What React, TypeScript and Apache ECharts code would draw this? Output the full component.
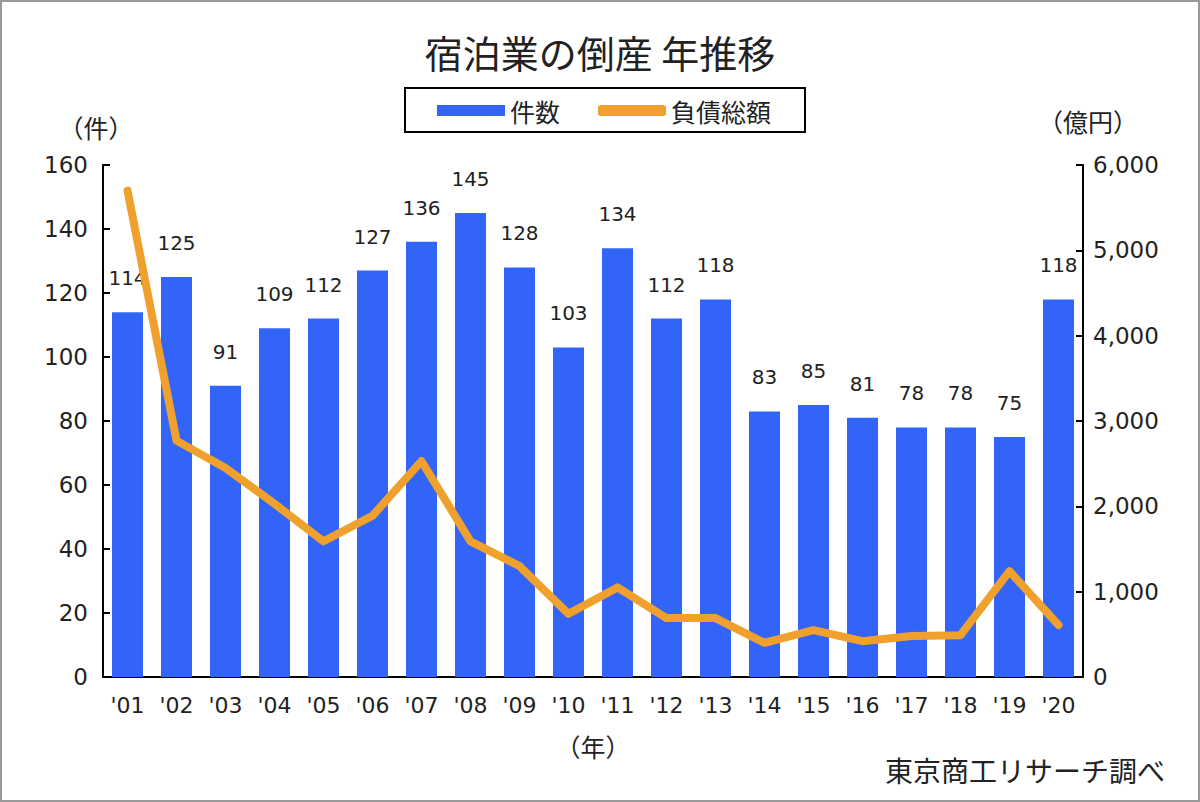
import React, { useEffect, useRef } from "react";
import * as echarts from "echarts";

const years = ["'01","'02","'03","'04","'05","'06","'07","'08","'09","'10","'11","'12","'13","'14","'15","'16","'17","'18","'19","'20"];
const counts = [114,125,91,109,112,127,136,145,128,103,134,112,118,83,85,81,78,78,75,118];
const debts = [5700,2770,2450,2030,1590,1890,2530,1590,1300,740,1050,690,690,400,550,420,480,490,1240,610];
const leftTicks = { min: 0, max: 160, interval: 20 };
const rightTicks = { min: 0, max: 6000, interval: 1000 };

const FONT = "'Noto Sans CJK JP', 'Noto Sans', sans-serif";
const NUM = "'DejaVu Sans', sans-serif";
const BLUE = "#3364F8";
const ORANGE = "#F0A02C";

export default function App() {
  const ref = useRef<HTMLDivElement>(null);
  useEffect(() => {
    if (!ref.current) return;
    const chart = echarts.init(ref.current, null, { renderer: "svg" });
    chart.setOption({
      animation: false,
      backgroundColor: "#fff",
      title: {
        text: "宿泊業の倒産 年推移",
        left: "center",
        top: 27,
        textStyle: { fontFamily: FONT, fontSize: 38, fontWeight: "normal", color: "#222" },
      },
      legend: {
        left: 405,
        top: 88,
        orient: "horizontal",
        borderColor: "#000",
        borderWidth: 2,
        padding: [10, 34, 9, 32],
        itemWidth: 68,
        itemHeight: 11,
        itemGap: 38,
        textStyle: { fontFamily: FONT, fontSize: 25, color: "#222" },
        data: [
          { name: "件数", icon: "rect", itemStyle: { color: BLUE } },
          { name: "負債総額", icon: "roundRect", itemStyle: { color: ORANGE } },
        ],
      },
      grid: { left: 103, right: 117, top: 165, bottom: 125 },
      xAxis: {
        type: "category",
        data: years,
        name: "（年）",
        nameLocation: "middle",
        nameGap: 56,
        nameTextStyle: { fontFamily: FONT, fontSize: 25, color: "#222" },
        axisLine: { lineStyle: { color: "#000", width: 2 } },
        axisTick: { inside: true, length: 7, lineStyle: { color: "#000", width: 2 } },
        axisLabel: { fontFamily: NUM, fontSize: 22, color: "#222", margin: 17 },
      },
      yAxis: [
        {
          type: "value",
          ...leftTicks,
          name: "（件）",
          nameLocation: "end",
          nameGap: 26,
          nameTextStyle: { fontFamily: FONT, fontSize: 25, color: "#222", align: "center", padding: [0, 14, 0, 0] },
          splitLine: { show: false },
          axisLine: { show: true, lineStyle: { color: "#000", width: 2 } },
          axisTick: { show: true, inside: true, length: 7, lineStyle: { color: "#000", width: 2 } },
          axisLabel: { fontFamily: NUM, fontSize: 23, color: "#222", margin: 15 },
        },
        {
          type: "value",
          ...rightTicks,
          name: "（億円）",
          nameLocation: "end",
          nameGap: 32,
          nameTextStyle: { fontFamily: FONT, fontSize: 25, color: "#222", align: "center", padding: [0, 0, 0, 10] },
          splitLine: { show: false },
          axisLine: { show: true, lineStyle: { color: "#000", width: 2 } },
          axisTick: { show: true, inside: true, length: 7, lineStyle: { color: "#000", width: 2 } },
          axisLabel: {
            fontFamily: NUM,
            fontSize: 23,
            color: "#222",
            margin: 10,
            formatter: (v: number) => v.toLocaleString("en-US"),
          },
        },
      ],
      series: [
        {
          name: "件数",
          type: "bar",
          data: counts,
          barWidth: 31,
          itemStyle: { color: BLUE },
          label: {
            show: true,
            position: "top",
            distance: 24,
            fontFamily: NUM,
            fontSize: 20,
            color: "#222",
          },
        },
        {
          name: "負債総額",
          type: "line",
          yAxisIndex: 1,
          data: debts,
          symbol: "none",
          itemStyle: { color: ORANGE },
          lineStyle: { color: ORANGE, width: 8, cap: "round", join: "round" },
          z: 5,
        },
      ],
      graphic: [
        {
          type: "text",
          right: 35,
          top: 756,
          style: { text: "東京商工リサーチ調べ", fontFamily: FONT, fontSize: 28, fill: "#222" },
        },
        {
          type: "rect",
          shape: { x: 1, y: 1, width: 1198, height: 800 },
          style: { fill: "none", stroke: "#999", lineWidth: 2 },
          silent: true,
        },
      ],
    });
    return () => chart.dispose();
  }, []);
  return (
    <div
      ref={ref}
      style={{ position: "absolute", left: 0, top: 0, width: 1200, height: 802 }}
    />
  );
}
